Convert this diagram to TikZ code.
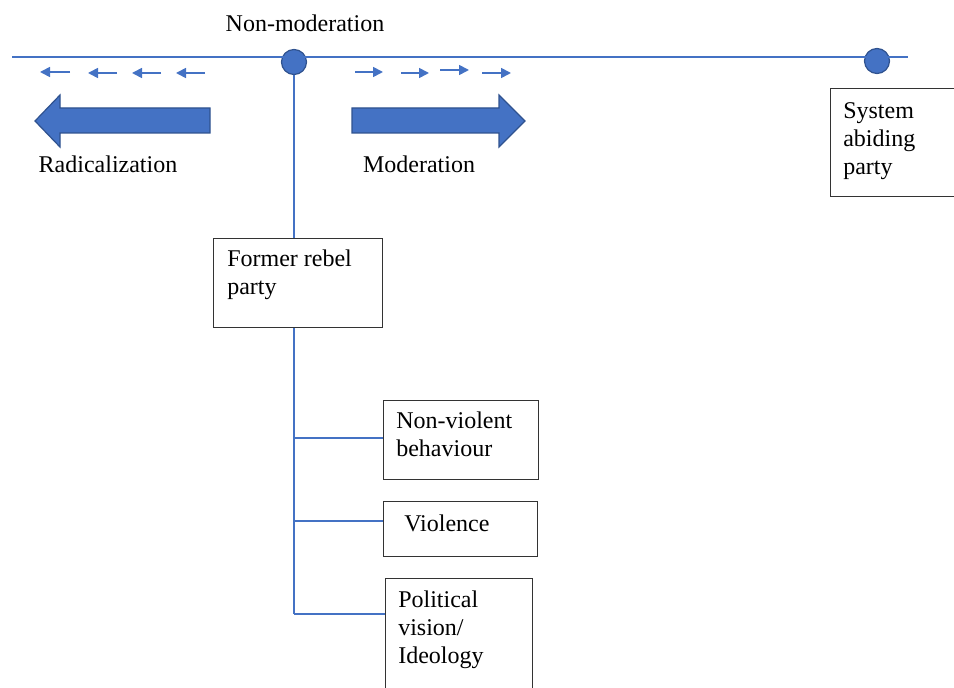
\documentclass[tikz,border=0pt]{standalone}
\usepackage{fontspec}
\setmainfont{Liberation Serif}
\usetikzlibrary{arrows.meta}
\definecolor{lineblue}{HTML}{4472C4}
\definecolor{edgeblue}{HTML}{2F528F}
\newcommand{\px}{0.75pt}
\tikzset{
	link/.style={color=lineblue,line width=0.8pt},
	dot/.style={circle,draw=edgeblue,fill=lineblue,line width=0.9pt,minimum size=25*\px,inner sep=0pt},
	smallarrow/.style={color=lineblue,line width=1.3pt,-{Triangle[length=7.5pt,width=7.5pt]}},
	bigarrow/.style={draw=edgeblue,fill=lineblue,line width=0.9pt},
	box/.style={draw=black!80,line width=0.8pt,anchor=north west,inner sep=0pt},
	boxtext/.style={anchor=north west,inner sep=0pt,align=left,font=\fontsize{18}{21}\selectfont},
	label/.style={anchor=base,inner sep=0pt,font=\fontsize{18}{21}\selectfont}
}
\begin{document}
\begin{tikzpicture}[x=\px,y=-\px]
		\useasboundingbox (0,0) rectangle (954,688);
		% scale line
		\node[dot] (mid) at (294,62) {};
		\node[dot] (abide) at (877,61) {};
		\coordinate (lend) at (12,57);
		\coordinate (rend) at (908,57);
		\draw[link] (lend) -- (rend);
		\node[label] (nonmod) at (305,32) {Non-moderation};
		% small arrows
		\foreach \a/\b/\y in {70/40/72,117/88/73,161/132/73,205/176/73,355/383/72,401/429/73,440/469/70,482/511/73}
			\draw[smallarrow] (\a,\y) -- (\b,\y);
		% big arrows
		\draw[bigarrow] (210,108) -- (60,108) -- (60,95) -- (35,121) -- (60,147) -- (60,133) -- (210,133) -- cycle;
		\draw[bigarrow] (352,108) -- (499,108) -- (499,95) -- (525,121) -- (499,147) -- (499,133) -- (352,133) -- cycle;
		\node[label] (radical) at (108,173) {Radicalization};
		\node[label] (moder) at (419,173) {Moderation};
		% boxes
		\node[box,minimum width=126*\px,minimum height=108*\px] (system) at (830,88) {};
		\node[boxtext] (systemtxt) at ([shift={(13,14)}]system.north west) {System\\abiding\\party};
		\node[box,minimum width=169*\px,minimum height=89*\px] (rebel) at (213,238) {};
		\node[boxtext] (rebeltxt) at ([shift={(14,12)}]rebel.north west) {Former rebel\\party};
		\node[box,minimum width=155*\px,minimum height=79*\px] (nonviol) at (383,400) {};
		\node[boxtext] (nonvioltxt) at ([shift={(13,12)}]nonviol.north west) {Non-violent\\behaviour};
		\node[box,minimum width=154*\px,minimum height=55*\px] (viol) at (383,501) {};
		\node[boxtext] (violtxt) at ([shift={(21,14)}]viol.north west) {Violence};
		\node[box,minimum width=147*\px,minimum height=115*\px] (vision) at (385,578) {};
		\node[boxtext] (visiontxt) at ([shift={(13,13)}]vision.north west) {Political\\vision/\\Ideology};
		% tree
		\coordinate (b1) at (mid.south |- 0,438);
		\coordinate (b2) at (mid.south |- 0,521);
		\coordinate (b3) at (mid.south |- 0,614);
		\draw[link] (mid.south) -- (mid.south |- rebel.north);
		\draw[link] (mid.south |- rebel.south) -- (b3);
		\draw[link] (b1) -- (b1 -| nonviol.west);
		\draw[link] (b2) -- (b2 -| viol.west);
		\draw[link] (b3) -- (b3 -| vision.west);
\end{tikzpicture}
\end{document}
